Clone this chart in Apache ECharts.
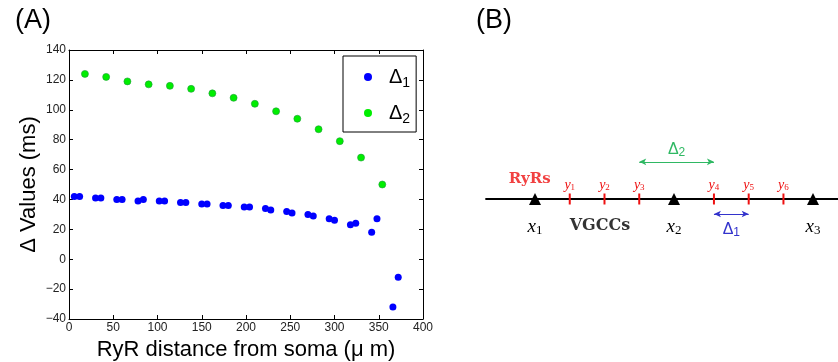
<!DOCTYPE html>
<html>
<head>
<meta charset="utf-8">
<script src="https://cdn.jsdelivr.net/npm/echarts@6/dist/echarts.min.js"></script>
<style>
  html, body { margin: 0; padding: 0; background: #fff; }
  #chart { width: 838px; height: 362px; }
</style>
</head>
<body>
<div id="chart"></div>
<script>
// panel A data: distance of RyR from soma (um) and delta values (ms)
var delta1X = [6, 12, 30, 36, 54, 60, 78, 84, 102, 108, 126, 132, 150, 156, 174, 180,
               198, 204, 222, 228, 246, 252, 270, 276, 294, 300, 318, 324, 342, 348, 366, 372];
var delta1Y = [42, 42, 41, 41, 40, 40, 39, 40, 39, 39, 38, 38, 37, 37, 36, 36,
               35, 35, 34, 33, 32, 31, 30, 29, 27, 26, 23, 24, 18, 27, -32, -12];
var delta2X = [18, 42, 66, 90, 114, 138, 162, 186, 210, 234, 258, 282, 306, 330, 354];
var delta2Y = [124, 122, 119, 117, 116, 114, 111, 108, 104, 99, 94, 87, 79, 68, 50];

// panel B diagram: positions along the dendrite
var vgccPos = [0, 4, 8];
var vgccNames = ['1', '2', '3'];
var ryrPos = [1, 2, 3, 5.15, 6.15, 7.15];
var ryrNames = ['1', '2', '3', '4', '5', '6'];
var delta2Span = [3, 5.15];
var delta1Span = [5.15, 6.15];

function pairs(xs, ys) {
    var out = [];
    for (var i = 0; i < xs.length; i++) out.push([xs[i], ys[i]]);
    return out;
}
function onLine(xs) {
    return xs.map(function (x) { return [x, 0]; });
}

var sans = 'Liberation Sans';
var serif = 'Liberation Serif';
var tickLabel = {
    fontFamily: sans, fontSize: 12, color: '#222', margin: 3,
    formatter: function (v) { return String(v).replace('-', '\u2212'); }
};

var myChart = echarts.init(document.getElementById('chart'));
var option = {
    animation: false,
    backgroundColor: '#fff',
    title: [
        { text: '(A)', left: 10, top: 2, textStyle: { fontFamily: sans, fontSize: 27, fontWeight: 'normal', color: '#000' } },
        { text: '(B)', left: 471, top: 2, textStyle: { fontFamily: sans, fontSize: 27, fontWeight: 'normal', color: '#000' } }
    ],
    legend: {
        orient: 'vertical',
        left: 343,
        top: 56,
        padding: [8, 6, 6, 21],
        itemGap: 10,
        itemWidth: 8,
        itemHeight: 8,
        borderColor: '#000',
        borderWidth: 1,
        backgroundColor: '#fff',
        itemStyle: { borderWidth: 0 },
        data: [{ name: 'Δ1', icon: 'circle' }, { name: 'Δ2', icon: 'circle' }],
        formatter: function (name) {
            return '{d|Δ}{s|' + name.slice(1) + '}';
        },
        textStyle: {
            padding: [0, 0, 0, 12],
            rich: {
                d: { fontFamily: sans, fontSize: 20, color: '#000', lineHeight: 26 },
                s: { fontFamily: sans, fontSize: 14, color: '#000', lineHeight: 26, padding: [12, 0, 0, 0] }
            }
        }
    },
    grid: [
        { left: 69, top: 50, width: 354, height: 269, outerBoundsMode: 'none' },
        { left: 486, top: 139, width: 352, height: 120, outerBoundsMode: 'none' }
    ],
    xAxis: [
        {
            gridIndex: 0, type: 'value', min: 0, max: 400, interval: 50,
            name: 'RyR distance from soma (μ m)', nameLocation: 'middle', nameGap: 18,
            nameTextStyle: { fontFamily: sans, fontSize: 22, color: '#000' },
            axisLine: { onZero: false, lineStyle: { color: '#000', width: 1 } },
            axisTick: { inside: true, length: 4, lineStyle: { color: '#000' } },
            axisLabel: tickLabel,
            splitLine: { show: false }
        },
        {
            gridIndex: 0, type: 'value', min: 0, max: 400, interval: 50, position: 'top',
            axisLine: { onZero: false, lineStyle: { color: '#000', width: 1 } },
            axisTick: { inside: true, length: 4, lineStyle: { color: '#000' } },
            axisLabel: { show: false },
            splitLine: { show: false }
        },
        {
            gridIndex: 1, type: 'value', min: -1.41, max: 8.72,
            axisLine: { onZero: true, lineStyle: { color: '#000', width: 1.8 } },
            axisTick: { show: false },
            axisLabel: { show: false },
            splitLine: { show: false }
        }
    ],
    yAxis: [
        {
            gridIndex: 0, type: 'value', min: -40, max: 140, interval: 20,
            name: 'Δ Values (ms)', nameLocation: 'middle', nameGap: 29, nameRotate: 90,
            nameTextStyle: { fontFamily: sans, fontSize: 22, color: '#000' },
            axisLine: { onZero: false, lineStyle: { color: '#000', width: 1 } },
            axisTick: { inside: true, length: 4, lineStyle: { color: '#000' } },
            axisLabel: tickLabel,
            splitLine: { show: false }
        },
        {
            gridIndex: 0, type: 'value', min: -40, max: 140, interval: 20, position: 'right',
            axisLine: { onZero: false, lineStyle: { color: '#000', width: 1 } },
            axisTick: { inside: true, length: 4, lineStyle: { color: '#000' } },
            axisLabel: { show: false },
            splitLine: { show: false }
        },
        {
            gridIndex: 1, type: 'value', min: -1, max: 1, show: false
        }
    ],
    series: [
        {
            name: 'Δ1', type: 'scatter', xAxisIndex: 0, yAxisIndex: 0,
            symbol: 'circle', symbolSize: 7,
            itemStyle: { color: '#0000ff', opacity: 1 },
            data: pairs(delta1X, delta1Y)
        },
        {
            name: 'Δ2', type: 'scatter', xAxisIndex: 0, yAxisIndex: 0,
            symbol: 'circle', symbolSize: 7,
            itemStyle: { color: '#00ee00', borderColor: '#1f9a3a', borderWidth: 0.6, opacity: 1 },
            data: pairs(delta2X, delta2Y)
        },
        {
            // RyR clusters: small red ticks
            type: 'scatter', xAxisIndex: 2, yAxisIndex: 2,
            symbol: 'rect', symbolSize: [2, 11],
            itemStyle: { color: '#ee1111', opacity: 1 },
            label: {
                show: true, position: 'top', distance: 1,
                formatter: function (p) { return '{v|y}{s|' + ryrNames[p.dataIndex] + '}'; },
                rich: {
                    v: { fontFamily: serif, fontStyle: 'italic', fontSize: 14, color: '#ee1111' },
                    s: { fontFamily: serif, fontSize: 9, color: '#ee1111', padding: [5, 0, 0, 0] }
                }
            },
            data: onLine(ryrPos)
        },
        {
            // VGCCs: black triangles
            type: 'scatter', xAxisIndex: 2, yAxisIndex: 2,
            symbol: 'triangle', symbolSize: [12, 12],
            itemStyle: { color: '#000', opacity: 1 },
            label: {
                show: true, position: 'bottom', distance: 11,
                formatter: function (p) { return '{v|x}{s|' + vgccNames[p.dataIndex] + '}'; },
                rich: {
                    v: { fontFamily: serif, fontStyle: 'italic', fontSize: 19, color: '#000' },
                    s: { fontFamily: serif, fontSize: 13, color: '#000', padding: [8, 0, 0, 0] }
                }
            },
            markLine: {
                silent: true,
                symbol: ['arrow', 'arrow'],
                symbolSize: [5, 7],
                data: [
                    [
                        {
                            coord: [delta2Span[0], 0.62],
                            lineStyle: { color: '#2fb863', width: 1, type: 'solid' },
                            label: {
                                show: true, position: 'middle', distance: 3,
                                formatter: '{d|Δ}{s|2}',
                                rich: {
                                    d: { fontFamily: sans, fontSize: 16, color: '#2fb863' },
                                    s: { fontFamily: sans, fontSize: 12, color: '#2fb863', padding: [6, 0, 0, 0] }
                                }
                            }
                        },
                        { coord: [delta2Span[1], 0.62] }
                    ],
                    [
                        {
                            coord: [delta1Span[0], -0.25],
                            lineStyle: { color: '#3333cc', width: 1, type: 'solid' },
                            label: {
                                show: true, position: 'insideMiddleBottom', distance: 7,
                                formatter: '{d|Δ}{s|1}',
                                rich: {
                                    d: { fontFamily: sans, fontSize: 16, color: '#3333cc' },
                                    s: { fontFamily: sans, fontSize: 12, color: '#3333cc', padding: [6, 0, 0, 0] }
                                }
                            }
                        },
                        { coord: [delta1Span[1], -0.25] }
                    ]
                ]
            },
            data: onLine(vgccPos)
        },
        {
            // text tags for RyRs and VGCCs
            type: 'scatter', xAxisIndex: 2, yAxisIndex: 2,
            symbolSize: 0,
            label: {
                show: true, position: 'inside',
                formatter: function (p) { return p.name; },
                fontFamily: 'DejaVu Serif', fontWeight: 'bold', fontSize: 15
            },
            data: [
                { name: 'RyRs', value: [-0.15, 0.33], label: { color: '#ee1111' } },
                { name: 'VGCCs', value: [1.87, -0.45], label: { color: '#000', fontSize: 16 } }
            ]
        }
    ]
};
myChart.setOption(option);
</script>
</body>
</html>
